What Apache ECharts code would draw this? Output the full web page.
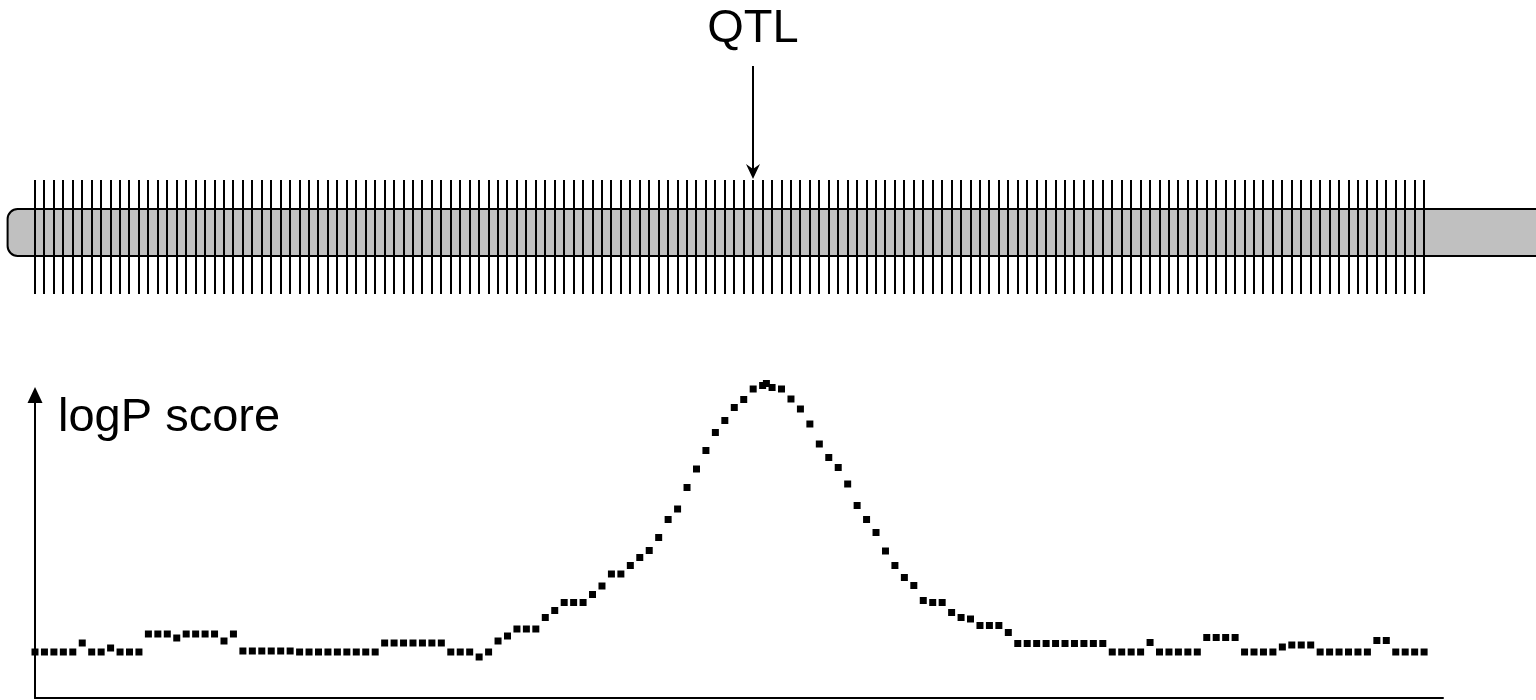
<!DOCTYPE html>
<html>
<head>
<meta charset="utf-8">
<title>QTL logP</title>
<script src="https://cdn.jsdelivr.net/npm/echarts@6/dist/echarts.min.js"></script>
<style>
  html, body { margin: 0; padding: 0; background: #fff; }
  #main { width: 1536px; height: 700px; }
</style>
</head>
<body>
<div id="main"></div>
<script>
// marker positions along the chromosome
const markerPos = [
  0, 1, 2, 3, 4, 5, 6, 7, 8, 9, 10, 11, 12, 13, 14, 15, 16, 17, 18, 19,
  20, 21, 22, 23, 24, 25, 26, 27, 28, 29, 30, 31, 32, 33, 34, 35, 36, 37, 38, 39,
  40, 41, 42, 43, 44, 45, 46, 47, 48, 49, 50, 51, 52, 53, 54, 55, 56, 57, 58, 59,
  60, 61, 62, 63, 64, 65, 66, 67, 68, 69, 70, 71, 72, 73, 74, 75, 76, 77, 78, 79,
  80, 81, 82, 83, 84, 85, 86, 87, 88, 89, 90, 91, 92, 93, 94, 95, 96, 97, 98, 99,
  100, 101, 102, 103, 104, 105, 106, 107, 108, 109, 110, 111, 112, 113, 114, 115, 116, 117, 118, 119,
  120, 121, 122, 123, 124, 125, 126, 127, 128, 129, 130, 131, 132, 133, 134, 135, 136, 137, 138, 139,
  140, 141, 142, 143, 144, 145, 146, 147
];
// logP score at each marker
const logP = [
  0.92, 0.92, 0.92, 0.92, 0.92, 1.10, 0.92, 0.92, 1.00, 0.92,
  0.92, 0.92, 1.28, 1.28, 1.28, 1.20, 1.28, 1.28, 1.28, 1.28,
  1.14, 1.28, 0.94, 0.94, 0.94, 0.94, 0.94, 0.94, 0.92, 0.92,
  0.92, 0.92, 0.92, 0.92, 0.92, 0.92, 0.92, 1.10, 1.10, 1.10,
  1.10, 1.10, 1.10, 1.10, 0.92, 0.92, 0.92, 0.82, 0.92, 1.14,
  1.24, 1.38, 1.38, 1.38, 1.61, 1.75, 1.91, 1.91, 1.91, 2.07,
  2.24, 2.48, 2.48, 2.65, 2.81, 2.95, 3.21, 3.57, 3.78, 4.21,
  4.58, 4.95, 5.31, 5.55, 5.81, 5.97, 6.18, 6.25, 6.21, 6.18,
  5.98, 5.78, 5.48, 5.08, 4.81, 4.61, 4.28, 3.85, 3.57, 3.31,
  2.94, 2.65, 2.41, 2.25, 1.95, 1.91, 1.91, 1.71, 1.61, 1.58,
  1.45, 1.45, 1.45, 1.31, 1.09, 1.09, 1.09, 1.09, 1.09, 1.09,
  1.09, 1.09, 1.09, 1.09, 0.92, 0.92, 0.92, 0.92, 1.11, 0.92,
  0.92, 0.92, 0.92, 0.92, 1.21, 1.21, 1.21, 1.21, 0.92, 0.92,
  0.92, 0.92, 1.02, 1.06, 1.06, 1.06, 0.92, 0.92, 0.92, 0.92,
  0.92, 0.92, 1.15, 1.15, 0.92, 0.92, 0.92, 0.92
];
// one extra scan point at the top of the peak
const extraPos = [77.4];
const extraLogP = [6.29];
// chromosome extent and QTL position
const chromStart = -2.9;
const chromEnd = 175;
const qtlPos = 76;
const qtlLabel = 'QTL';
const yName = 'logP score';

// layout (pixels)
const CHROM_TOP = 209, CHROM_BOTTOM = 256;
const TICK_TOP = 180, TICK_BOTTOM = 294;
const FONT = '"Liberation Sans", Arial, sans-serif';

var chart = echarts.init(document.getElementById('main'), null, { renderer: 'canvas' });

let scanData = markerPos.map(function (p, i) { return [p, logP[i]]; });
extraPos.forEach(function (p, i) { scanData.push([p, extraLogP[i]]); });

chart.setOption({
  animation: false,
  backgroundColor: '#fff',
  grid: { left: 35, right: 93, top: 395, bottom: 2 },
  xAxis: {
    type: 'value',
    min: 0,
    max: 149,
    axisLine: { show: true, onZero: false, lineStyle: { color: '#000', width: 2 } },
    axisTick: { show: false },
    axisLabel: { show: false },
    splitLine: { show: false }
  },
  yAxis: {
    type: 'value',
    min: 0,
    max: 6.06,
    name: yName,
    nameLocation: 'end',
    nameGap: -23,
    nameTextStyle: {
      fontFamily: FONT, fontSize: 47, color: '#000',
      align: 'left', verticalAlign: 'middle', padding: [0, 0, 0, 23]
    },
    axisLine: {
      show: true,
      symbol: ['none', 'triangle'],
      symbolSize: [15, 16],
      lineStyle: { color: '#000', width: 2 }
    },
    axisTick: { show: false },
    axisLabel: { show: false },
    splitLine: { show: false }
  },
  series: [
    {
      // chromosome bar
      type: 'custom',
      clip: false,
      data: [[chromStart, chromEnd]],
      renderItem: function (params, api) {
        let x0 = api.coord([api.value(0), 0])[0];
        let x1 = api.coord([api.value(1), 0])[0];
        return {
          type: 'rect',
          shape: { x: x0, y: CHROM_TOP, width: x1 - x0, height: CHROM_BOTTOM - CHROM_TOP, r: 10 },
          style: { fill: '#c0c0c0', stroke: '#000', lineWidth: 2 }
        };
      },
      z: 1
    },
    {
      // marker ticks
      type: 'custom',
      clip: false,
      data: markerPos.map(function (p) { return [p]; }),
      renderItem: function (params, api) {
        let x = Math.round(api.coord([api.value(0), 0])[0]);
        return {
          type: 'line',
          shape: { x1: x, y1: TICK_TOP, x2: x, y2: TICK_BOTTOM },
          style: { stroke: '#000', lineWidth: 2 }
        };
      },
      z: 2
    },
    {
      // QTL arrow + label
      type: 'custom',
      clip: false,
      data: [[qtlPos]],
      renderItem: function (params, api) {
        let x = Math.round(api.coord([api.value(0), 0])[0]);
        return {
          type: 'group',
          children: [
            {
              type: 'line',
              shape: { x1: x, y1: 66, x2: x, y2: 170 },
              style: { stroke: '#000', lineWidth: 2 }
            },
            {
              type: 'polygon',
              shape: { points: [[x - 7, 164], [x, 179], [x + 7, 164], [x, 169]] },
              style: { fill: '#000' }
            },
            {
              type: 'text',
              x: x,
              y: 29,
              style: {
                text: qtlLabel, font: '47px ' + FONT, fill: '#000',
                align: 'center', verticalAlign: 'middle'
              }
            }
          ]
        };
      },
      z: 3
    },
    {
      // logP scan
      type: 'scatter',
      clip: false,
      symbol: 'rect',
      symbolSize: 7,
      itemStyle: { color: '#000', opacity: 1 },
      data: scanData,
      z: 4
    }
  ]
});
</script>
</body>
</html>
